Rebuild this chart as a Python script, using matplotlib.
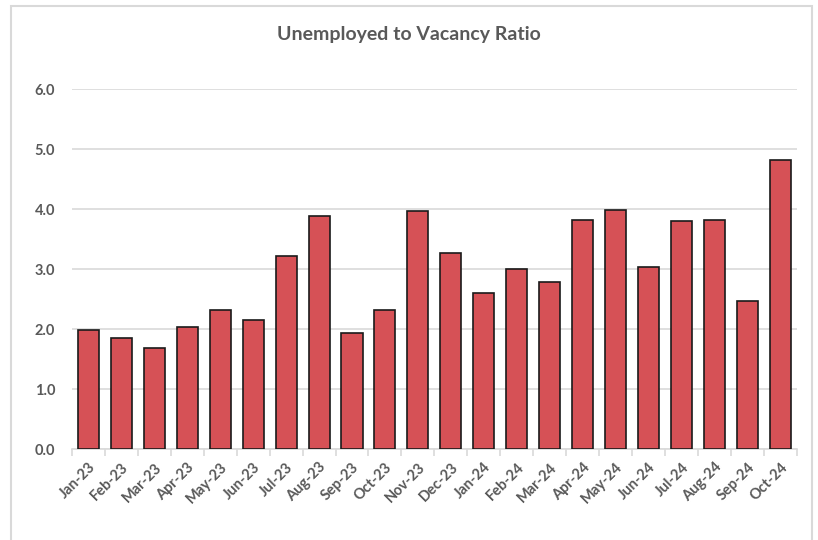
import numpy as np
import matplotlib
matplotlib.use('Agg')
from matplotlib import pyplot as plt
from matplotlib.patches import Rectangle

months = ['Jan-23', 'Feb-23', 'Mar-23', 'Apr-23', 'May-23', 'Jun-23', 'Jul-23', 'Aug-23',
          'Sep-23', 'Oct-23', 'Nov-23', 'Dec-23', 'Jan-24', 'Feb-24', 'Mar-24', 'Apr-24',
          'May-24', 'Jun-24', 'Jul-24', 'Aug-24', 'Sep-24', 'Oct-24']
ratio = [1.98, 1.85, 1.68, 2.04, 2.32, 2.15, 3.21, 3.88, 1.93, 2.32, 3.97, 3.27,
         2.60, 3.00, 2.79, 3.82, 3.98, 3.04, 3.80, 3.81, 2.46, 4.81]
yticks = [0, 1, 2, 3, 4, 5, 6]

plt.rcParams['font.family'] = ['Lato', 'DejaVu Sans']
grey = '#595959'

fig = plt.figure(figsize=(8.18, 5.40), dpi=100)
# chart area frame (bottom edge runs off the image)
fig.patches.append(Rectangle((0.0134, -0.05), 0.9793, 1.039, transform=fig.transFigure,
                             fill=False, edgecolor='#d9d9d9', linewidth=1.5))
ax = fig.add_axes([0.088, 0.1685, 0.886, 0.6665])

x = np.arange(len(months))
ax.bar(x, ratio, width=0.64, color='#D65156', edgecolor='#1a1a1a', linewidth=1.2, zorder=3)

ax.set_xlim(-0.5, len(months) - 0.5)
ax.set_ylim(0, 6)
ax.set_yticks(yticks)
ax.set_yticklabels([f'{v:.1f}' for v in yticks], fontsize=10.5, fontweight='bold', color=grey)
ax.tick_params(axis='y', length=0, pad=12)
ax.grid(True, axis='y', color='#d9d9d9', linewidth=1.2, zorder=0)

ax.set_xticks(x)
ax.set_xticklabels(months, rotation=45, ha='right', rotation_mode='anchor',
                   fontsize=10.5, fontweight='bold', color=grey)
ax.set_xticks(np.arange(-0.5, len(months), 1), minor=True)
ax.tick_params(axis='x', which='major', length=0, pad=8)
ax.tick_params(axis='x', which='minor', length=5, color='#d9d9d9', width=1.2)

for s in ['top', 'right', 'left']:
    ax.spines[s].set_visible(False)
ax.spines['bottom'].set_color('#d9d9d9')
ax.spines['bottom'].set_linewidth(1.2)

fig.text(0.5, 0.937, 'Unemployed to Vacancy Ratio', ha='center', va='center',
         fontsize=14, fontweight='bold', color=grey)

fig.savefig('out.png', dpi=100)
